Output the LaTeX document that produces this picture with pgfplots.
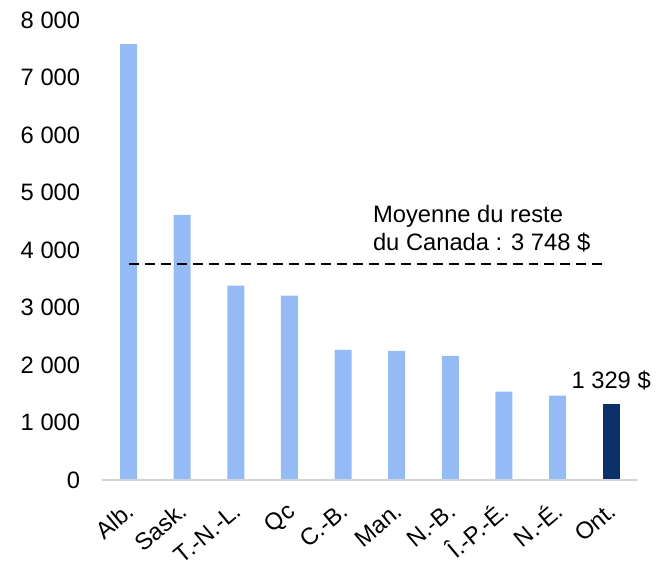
\documentclass[border=0pt]{standalone}
\usepackage{pgfplots}
\pgfplotsset{compat=1.18}
\usepackage{fontspec}
\setmainfont{Liberation Sans}
\definecolor{lightbar}{HTML}{95BBF6}
\definecolor{darkbar}{HTML}{0B3069}
\definecolor{axisgray}{HTML}{D4D4D4}
\begin{document}
\begin{tikzpicture}
\begin{axis}[
  at={(0,0)}, anchor=south west,
  scale only axis,
  width=402.2pt, height=345pt,
  xmin=-0.5, xmax=9.5,
  ymin=0, ymax=8000,
  axis line style={draw=none},
  axis x line*=bottom,
  axis y line*=left,
  xtick={0,...,9},
  xticklabels={Alb., Sask., T.-N.-L., Qc, C.-B., Man., N.-B., Î.-P.-É., N.-É., Ont.},
  ytick={0,1000,...,8000},
  major tick length=0pt,
  /pgf/number format/assume math mode=true,
  /pgf/number format/1000 sep={\ },
  scaled y ticks=false,
  yticklabel style={font=\fontsize{17.8}{20}\selectfont, text=black, anchor=east, inner sep=0pt, xshift=-16pt},
  xticklabel style={font=\fontsize{17.8}{20}\selectfont, text=black, xshift=5.25pt, yshift=-25.5pt, rotate=40, anchor=base east, inner sep=0pt},
  clip=false,
]
\addplot[ybar, bar width=12.75pt, fill=lightbar, draw=none] coordinates {
  (0,7580) (1,4610) (2,3380) (3,3205) (4,2262) (5,2243) (6,2157) (7,1536) (8,1466)
};
\addplot[ybar, bar width=12.75pt, fill=darkbar, draw=none] coordinates {
  (9,1329)
};
\addplot[black, line width=1.5pt, dash pattern=on 7.5pt off 4.5pt] coordinates {(0,3748) (8.85,3748)};
\draw[axisgray, line width=1.5pt] (axis cs:-0.5,0) -- (axis cs:9.5,0);
\node[anchor=south west, inner sep=0pt, align=left, font=\fontsize{17.8}{21.5}\selectfont] at (axis cs:4.555,3954) {Moyenne du reste\\du Canada : 3 748 \$};
\node[anchor=south, inner sep=0pt, font=\fontsize{17.8}{20}\selectfont] at (axis cs:9.0,1560) {1 329 \$};
\end{axis}
\pgfresetboundingbox
\path (-76.3pt,-63.75pt) rectangle (421pt,360pt);
\end{tikzpicture}
\end{document}
